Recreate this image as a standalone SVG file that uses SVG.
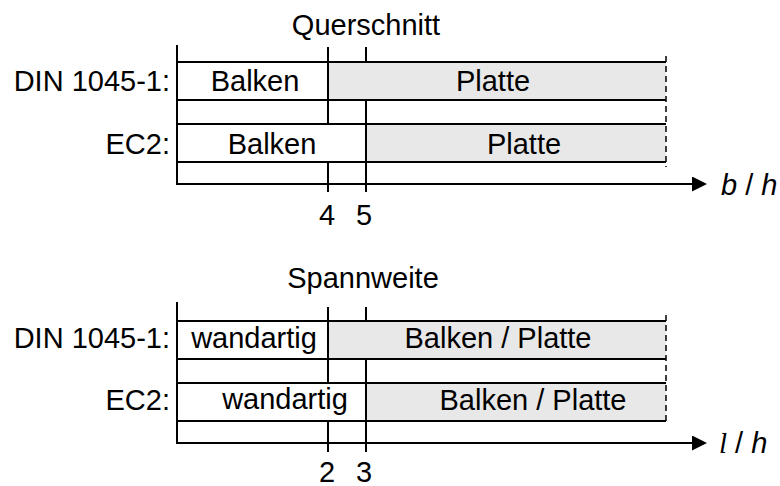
<svg xmlns="http://www.w3.org/2000/svg" width="780" height="486" viewBox="0 0 780 486">
  <defs>
    <style>
      .txt { font-family: "Liberation Sans", Arial, sans-serif; font-size: 29px; fill: #000; }
      .mid { text-anchor: middle; }
      .end { text-anchor: end; }
      .ln { stroke: #000; stroke-width: 2; fill: none; }
      .dash { stroke: #000; stroke-width: 1.5; stroke-dasharray: 6 4; fill: none; }
      .plain { fill: #ffffff; }
      .shade { fill: #e8e8e8; }
      .it { font-style: italic; }
    </style>
    <marker id="arrow" markerWidth="15" markerHeight="15" refX="0" refY="7.5" orient="auto" markerUnits="userSpaceOnUse">
      <path d="M0,0 L15,7.5 L0,15 Z" fill="#000"/>
    </marker>
  </defs>

  <!-- Upper chart: cross-section ratio b/h -->
  <g id="chart-querschnitt">
    <text class="txt mid" x="366" y="35">Querschnitt</text>

    <g id="q-din">
      <rect class="plain" x="177" y="62" width="151" height="38"/>
      <rect class="shade" x="328" y="62" width="338" height="38"/>
      <line class="ln" x1="177" y1="62" x2="666" y2="62"/>
      <line class="ln" x1="177" y1="100" x2="666" y2="100"/>
      <text class="txt end" x="170" y="91">DIN 1045-1:</text>
      <text class="txt mid" x="255" y="91">Balken</text>
      <text class="txt mid" x="493" y="91">Platte</text>
    </g>

    <g id="q-ec2">
      <rect class="plain" x="177" y="124" width="189" height="38"/>
      <rect class="shade" x="366" y="124" width="300" height="38"/>
      <line class="ln" x1="177" y1="124" x2="666" y2="124"/>
      <line class="ln" x1="177" y1="162" x2="666" y2="162"/>
      <text class="txt end" x="170" y="154">EC2:</text>
      <text class="txt mid" x="272" y="154">Balken</text>
      <text class="txt mid" x="524" y="154">Platte</text>
    </g>

    <g id="q-axes">
      <line class="ln" x1="177" y1="45" x2="177" y2="184"/>
      <line class="ln" x1="176" y1="184" x2="692" y2="184" marker-end="url(#arrow)"/>
      <line class="dash" x1="666" y1="56" x2="666" y2="167"/>
      <text class="txt" x="721" y="195"><tspan class="it">b</tspan> / <tspan class="it">h</tspan></text>
    </g>

    <g id="q-limits">
      <line class="ln" x1="328" y1="47" x2="328" y2="124"/>
      <line class="ln" x1="328" y1="162" x2="328" y2="192"/>
      <line class="ln" x1="366" y1="47" x2="366" y2="62"/>
      <line class="ln" x1="366" y1="100" x2="366" y2="192"/>
      <text class="txt mid" x="327" y="225">4</text>
      <text class="txt mid" x="364" y="225">5</text>
    </g>
  </g>

  <!-- Lower chart: span ratio l/h -->
  <g id="chart-spannweite">
    <text class="txt mid" x="363" y="288">Spannweite</text>

    <g id="s-din">
      <rect class="plain" x="177" y="321" width="151" height="38"/>
      <rect class="shade" x="328" y="321" width="338" height="38"/>
      <line class="ln" x1="177" y1="321" x2="666" y2="321"/>
      <line class="ln" x1="177" y1="359" x2="666" y2="359"/>
      <text class="txt end" x="170" y="348">DIN 1045-1:</text>
      <text class="txt mid" x="254" y="348">wandartig</text>
      <text class="txt mid" x="498" y="348">Balken / Platte</text>
    </g>

    <g id="s-ec2">
      <rect class="plain" x="177" y="383" width="189" height="38"/>
      <rect class="shade" x="366" y="383" width="300" height="38"/>
      <line class="ln" x1="177" y1="383" x2="666" y2="383"/>
      <line class="ln" x1="177" y1="421" x2="666" y2="421"/>
      <text class="txt end" x="170" y="410">EC2:</text>
      <text class="txt mid" x="285" y="409">wandartig</text>
      <text class="txt mid" x="533" y="410">Balken / Platte</text>
    </g>

    <g id="s-axes">
      <line class="ln" x1="177" y1="302" x2="177" y2="443"/>
      <line class="ln" x1="176" y1="443" x2="692" y2="443" marker-end="url(#arrow)"/>
      <line class="dash" x1="666" y1="315" x2="666" y2="425"/>
      <text class="txt" x="719" y="453"><tspan class="it" style="font-family: 'Liberation Serif', serif;">l</tspan> / <tspan class="it">h</tspan></text>
    </g>

    <g id="s-limits">
      <line class="ln" x1="328" y1="307" x2="328" y2="383"/>
      <line class="ln" x1="328" y1="421" x2="328" y2="452"/>
      <line class="ln" x1="366" y1="307" x2="366" y2="321"/>
      <line class="ln" x1="366" y1="359" x2="366" y2="452"/>
      <text class="txt mid" x="327" y="482">2</text>
      <text class="txt mid" x="364" y="482">3</text>
    </g>
  </g>
</svg>
